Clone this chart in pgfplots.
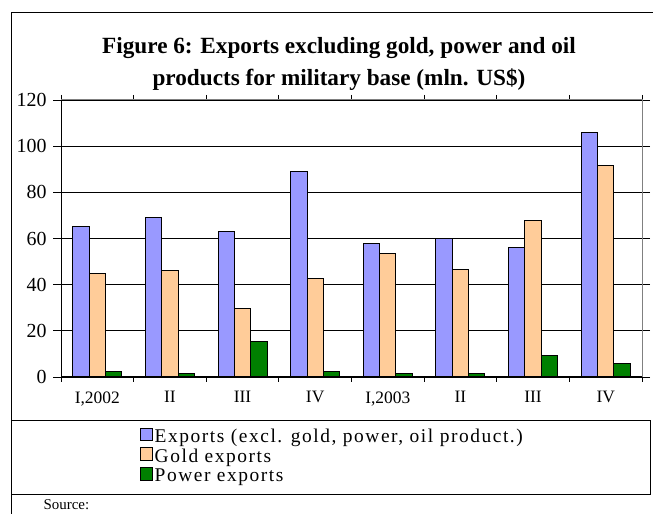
\documentclass[border=0pt]{standalone}
\usepackage{fontspec}
\setmainfont{Liberation Serif}
\newfontfamily\legfont[LetterSpace=8]{Liberation Serif}
\usepackage{pgfplots}
\pgfplotsset{compat=1.18}
\definecolor{cblue}{HTML}{9999FF}
\definecolor{cgold}{HTML}{FFCC99}
\definecolor{cgreen}{HTML}{008000}
\begin{document}
\begin{tikzpicture}[x=1bp,y=1bp]
\useasboundingbox (0,0) rectangle (653,514);
% outer frame
\draw[black, line width=1bp] (11,0) -- (11,501) -- (653,501);
\draw[black, line width=1bp] (11,93) -- (650.5,93) -- (650.5,19) -- (11,19);
\node[align=center, font=\fontsize{23.3}{32}\selectfont\bfseries] at (339,450) {Figure 6: Exports excluding gold, power and oil\\products for military base (mln. US\$)};
\node[anchor=base west, font=\fontsize{15}{16}\selectfont] at (40,4) {Source:};
\begin{axis}[
  at={(61bp,137bp)}, anchor=south west,
  scale only axis, width=581bp, height=277bp,
  xmin=0, xmax=8, ymin=0, ymax=120,
  ytick={0,20,...,120},
  xtick={0.5,1.5,...,7.5},
  xticklabels={{I,2002},II,III,IV,{I,2003},II,III,IV},
  minor xtick={0,1,...,8},
  major x tick style={draw=none},
  minor x tick style={black, line width=0.8bp},
  y tick style={black, line width=0.8bp},
  tick align=outside,
  major tick length=8bp, minor tick length=5bp,
  ymajorgrids, grid style={black, line width=0.8bp},
  axis line style={gray, line width=1bp},
  /pgf/number format/assume math mode=true,
  xticklabel style={font=\fontsize{17.5}{18}\selectfont, yshift=-3bp},
  yticklabel style={font=\fontsize{20}{20}\selectfont, xshift=-3bp},
  ybar=0pt, bar width=16.3bp,
  legend style={at={(0.13,-0.175)}, anchor=north west, draw=none, fill=none,
    font=\fontsize{19.5}{19}\selectfont\legfont, row sep=0pt,
    nodes={inner sep=1.5bp, text height=13bp, text depth=3.5bp}},
  legend cell align=left,
  legend image code/.code={\draw[#1, line width=1bp] (0bp,-3bp) rectangle (12.5bp,9.5bp);},
  clip=false,
]
\addplot[fill=cblue, draw=black, line width=1bp] coordinates {(0.5,65) (1.5,69) (2.5,63) (3.5,89) (4.5,58) (5.5,60) (6.5,56) (7.5,106)};
\addplot[fill=cgold, draw=black, line width=1bp] coordinates {(0.5,45) (1.5,46) (2.5,29.5) (3.5,42.5) (4.5,53.5) (5.5,46.5) (6.5,68) (7.5,91.5)};
\addplot[fill=cgreen, draw=black, line width=1bp] coordinates {(0.5,2.5) (1.5,1.5) (2.5,15.5) (3.5,2.5) (4.5,1.5) (5.5,1.5) (6.5,9.5) (7.5,6)};
\legend{{Exports (excl. gold, power, oil product.)}, {Gold exports}, {Power exports}}
\draw[black, line width=1bp] (rel axis cs:0,1) -- (rel axis cs:0,0) -- (rel axis cs:1,0);
\end{axis}
\end{tikzpicture}
\end{document}
